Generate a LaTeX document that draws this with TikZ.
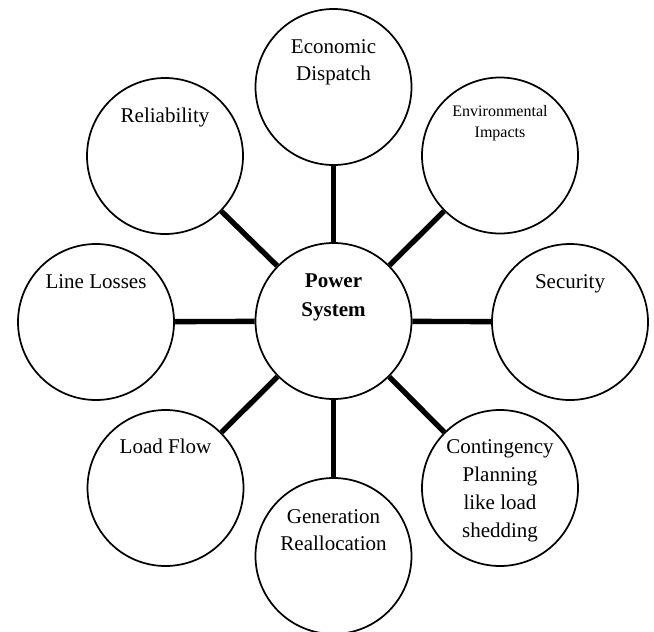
\documentclass[tikz,border=0pt]{standalone}
\usepackage{fontspec}
\setmainfont{Liberation Serif}
\begin{document}
\begin{tikzpicture}[x=0.75pt,y=-0.75pt,
  bub/.style={circle,draw,line width=1.3pt,minimum size=117pt,inner sep=0pt},
  lbl/.style={align=center,anchor=base,inner sep=0pt,font=\fontsize{15.75}{20.25}\selectfont},
  small/.style={align=center,anchor=base,inner sep=0pt,font=\fontsize{12}{15.75}\selectfont},
  conn/.style={line width=4pt}]
\useasboundingbox (0,0) rectangle (654,632);
\node[bub] (ps) at (333.5,321) {};
\node[bub] (ed) at (333.5,87) {};
\node[bub] (rel) at (165,156) {};
\node[bub] (env) at (500,155.5) {};
\node[bub] (ll) at (96,322) {};
\node[bub] (sec) at (570,322) {};
\node[bub] (lf) at (165.5,488) {};
\node[bub] (gen) at (333.5,556) {};
\node[bub] (cont) at (500,488) {};
\node[lbl,font=\fontsize{15.75}{21.75}\selectfont\bfseries] (tps) at (333.5,316) {Power\\System};
\node[lbl] (ted) at (333.5,80) {Economic\\Dispatch};
\node[lbl] (trel) at (165,122) {Reliability};
\node[small] (tenv) at (500,137) {Environmental\\Impacts};
\node[lbl] (tll) at (96,288) {Line Losses};
\node[lbl] (tsec) at (570,288) {Security};
\node[lbl] (tlf) at (165.5,453) {Load Flow};
\node[lbl] (tgen) at (333.5,550) {Generation\\Reallocation};
\node[lbl,font=\fontsize{15.75}{21}\selectfont] (tcont) at (500,537) {Contingency\\Planning\\like load\\shedding};
\foreach \n in {ed,rel,env,ll,sec,lf,gen,cont}
  \draw[conn] (ps) -- (\n);
\end{tikzpicture}
\end{document}
